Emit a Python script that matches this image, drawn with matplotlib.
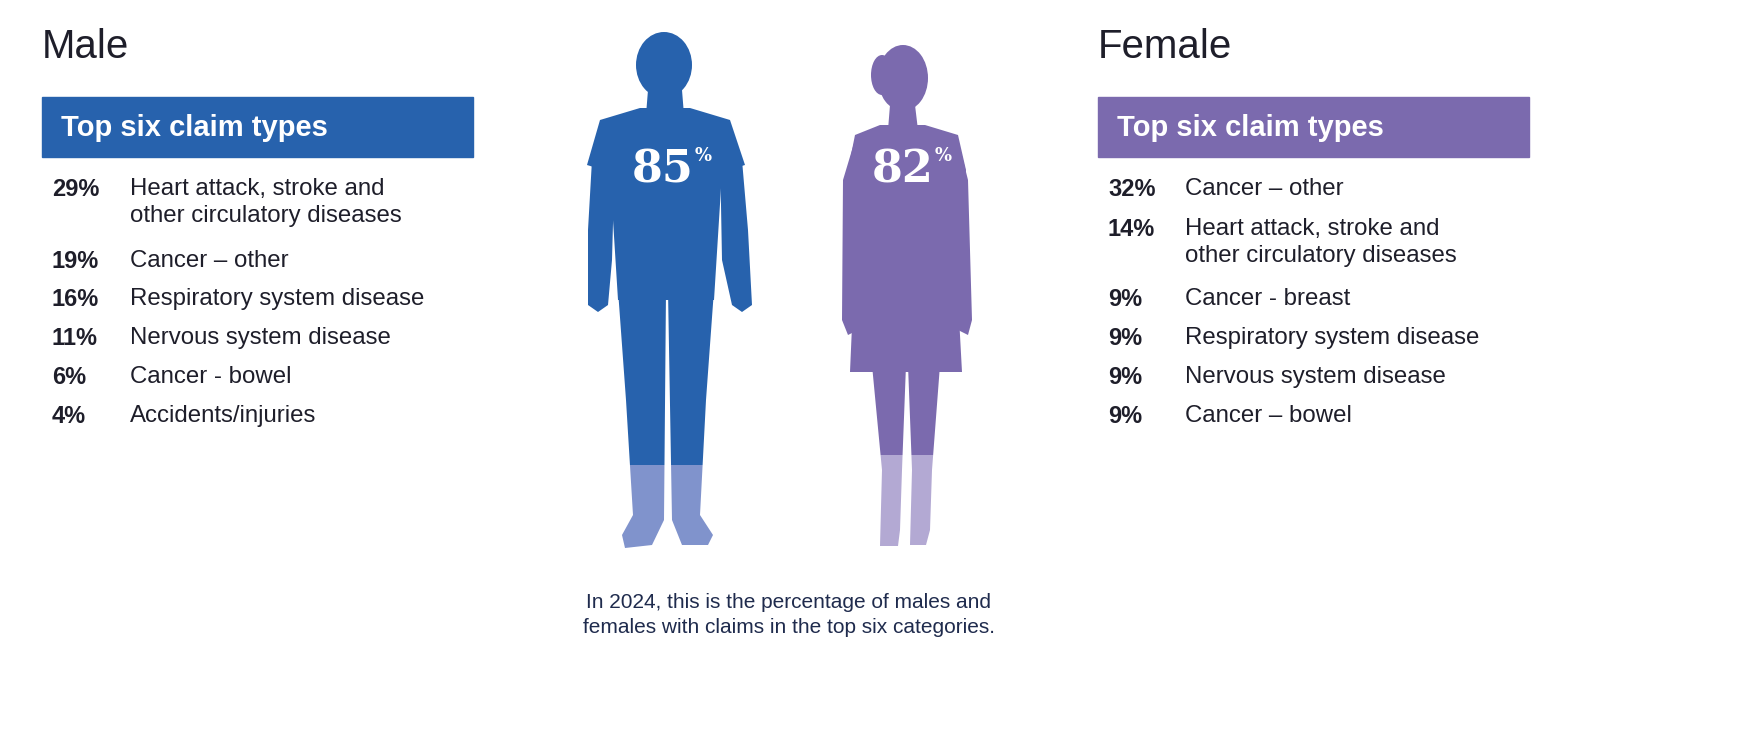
import matplotlib
matplotlib.use("Agg")
import matplotlib.pyplot as plt
from matplotlib.patches import Rectangle, Ellipse, Polygon

male_pct = ["29%", "19%", "16%", "11%", "6%", "4%"]
male_lbl = ["Heart attack, stroke and\nother circulatory diseases", "Cancer – other",
            "Respiratory system disease", "Nervous system disease", "Cancer - bowel", "Accidents/injuries"]
female_pct = ["32%", "14%", "9%", "9%", "9%", "9%"]
female_lbl = ["Cancer – other", "Heart attack, stroke and\nother circulatory diseases", "Cancer - breast",
              "Respiratory system disease", "Nervous system disease", "Cancer – bowel"]
male_total, female_total = "85", "82"

BLUE, BLUE_L = "#2762AD", "#8093CC"
PURP, PURP_L = "#7B6AAE", "#B3A9D3"
TXT = "#1E1E2A"

fig = plt.figure(figsize=(17.47, 7.36), dpi=100)
ax = fig.add_axes([0, 0, 1, 1])
ax.set_xlim(0, 1747); ax.set_ylim(736, 0); ax.axis("off")

def panel(x0, title, color, pcts, lbls, xl, ys):
    ax.text(x0, 47, title, fontsize=29, color=TXT, va="center", family="Liberation Sans")
    ax.add_patch(Rectangle((x0, 97), 431, 60, color=color))
    ax.text(x0 + 19, 128, "Top six claim types", fontsize=21, color="white", weight="bold",
            va="center", family="Liberation Sans")
    for p, l, y in zip(pcts, lbls, ys):
        ax.text(x0 + 10, y, p, fontsize=17, weight="bold", color=TXT, va="top", family="Liberation Sans")
        ax.text(xl, y, l, fontsize=17.3, color=TXT, va="top", family="Liberation Sans", linespacing=1.3)

panel(42, "Male", BLUE, male_pct, male_lbl, 130, [178, 250, 288, 327, 366, 405])
panel(1098, "Female", PURP, female_pct, female_lbl, 1185, [178, 218, 288, 327, 366, 405])

def person(parts, split, dark, light):
    for maker in parts:
        for col, clip in ((dark, Rectangle((0, 0), 1747, split, transform=ax.transData)),
                          (light, Rectangle((0, split), 1747, 736 - split, transform=ax.transData))):
            p = maker(); p.set_color(col); p.set_linewidth(0)
            ax.add_patch(p); p.set_clip_path(clip)

man = [
    lambda: Ellipse((664, 65), 56, 66),
    lambda: Polygon([(648, 90), (682, 90), (684, 115), (646, 115)]),
    lambda: Polygon([(640, 108), (690, 108), (730, 120), (745, 165), (722, 172), (714, 300),
                     (618, 300), (610, 172), (587, 165), (600, 120)]),
    lambda: Polygon([(600, 125), (615, 150), (612, 260), (608, 305), (598, 312), (588, 305), (588, 230), (592, 160)]),
    lambda: Polygon([(730, 125), (720, 150), (722, 260), (732, 305), (742, 312), (752, 305), (748, 230), (742, 160)]),
    lambda: Polygon([(618, 290), (666, 290), (664, 520), (652, 545), (625, 548), (622, 535), (633, 515), (626, 400)]),
    lambda: Polygon([(668, 290), (714, 290), (706, 400), (700, 515), (713, 535), (708, 545), (682, 545), (672, 520)]),
]
woman = [
    lambda: Ellipse((903, 78), 50, 66),
    lambda: Ellipse((882, 75), 22, 40),
    lambda: Polygon([(890, 105), (915, 105), (918, 130), (888, 130)]),
    lambda: Polygon([(880, 125), (925, 125), (958, 135), (966, 170), (957, 280), (962, 372),
                     (850, 372), (854, 280), (848, 170), (855, 135)]),
    lambda: Polygon([(855, 140), (862, 170), (858, 270), (858, 330), (848, 335), (842, 320), (843, 180)]),
    lambda: Polygon([(958, 140), (951, 170), (955, 270), (958, 330), (968, 335), (972, 320), (968, 180)]),
    lambda: Polygon([(872, 365), (906, 365), (902, 470), (900, 530), (898, 546), (880, 546), (882, 470)]),
    lambda: Polygon([(908, 365), (940, 365), (932, 470), (930, 530), (926, 545), (910, 545), (912, 470)]),
]
person(man, 465, BLUE, BLUE_L)
person(woman, 455, PURP, PURP_L)

for x, t in ((632, male_total), (872, female_total)):
    ax.text(x, 170, t, fontsize=32, color="white", weight="bold", va="center", family="DejaVu Serif")
    ax.text(x + 63, 156, "%", fontsize=13, color="white", weight="bold", va="center", family="DejaVu Serif")

ax.text(789, 615, "In 2024, this is the percentage of males and\nfemales with claims in the top six categories.",
        fontsize=15, color="#1F2B4D", ha="center", va="center", family="Liberation Sans", linespacing=1.4)

fig.savefig("out.png", dpi=100, facecolor="white")
